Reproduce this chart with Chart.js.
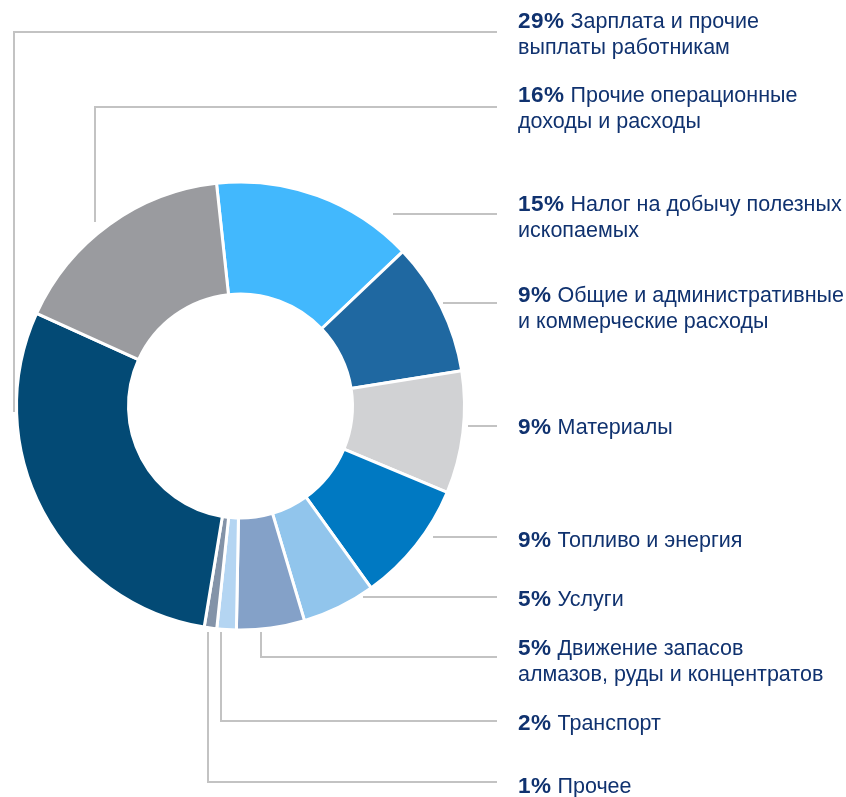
<!DOCTYPE html>
<html>
<head>
<meta charset="utf-8">
<script src="https://cdn.jsdelivr.net/npm/chart.js@4/dist/chart.umd.min.js"></script>
<style>
  html, body { margin: 0; padding: 0; background: #fff; }
  #wrap { width: 846px; height: 797px; position: relative; }
</style>
</head>
<body>
<div id="wrap"><canvas id="chart" width="846" height="797"></canvas></div>
<script>
'use strict';

// ---- Data (clockwise from the top) ----

const categories = [
  'Налог на добычу полезных ископаемых',
  'Общие и административные и коммерческие расходы',
  'Материалы',
  'Топливо и энергия',
  'Услуги',
  'Движение запасов алмазов, руды и концентратов',
  'Транспорт',
  'Прочее',
  'Зарплата и прочие выплаты работникам',
  'Прочие операционные доходы и расходы',
];
const shares = [14.6, 9.6, 8.8, 8.8, 5.3, 4.9, 1.4, 0.9, 29.2, 16.5];
const pctLabels = ['15%', '9%', '9%', '9%', '5%', '5%', '2%', '1%', '29%', '16%'];
const labelLines = [
  ['Налог на добычу полезных', 'ископаемых'],
  ['Общие и административные', 'и коммерческие расходы'],
  ['Материалы'],
  ['Топливо и энергия'],
  ['Услуги'],
  ['Движение запасов', 'алмазов, руды и концентратов'],
  ['Транспорт'],
  ['Прочее'],
  ['Зарплата и прочие', 'выплаты работникам'],
  ['Прочие операционные', 'доходы и расходы'],
];
const colors = [
  '#42b8fd', '#1f68a1', '#d1d2d4', '#0079c2', '#91c5ec',
  '#84a1c8', '#b4d5f2', '#8393a8', '#034a75', '#9a9b9f',
];

// ---- Label layout ----

const labelX = 518;
const labelBaseline = [211, 302, 434, 547, 606, 655, 730, 793, 28, 102];
const lineGap = 25.5;

// leader lines, one polyline per slice
const leaders = [
  [[393, 214], [497, 214]],
  [[443, 303], [497, 303]],
  [[468, 426], [497, 426]],
  [[433, 537], [497, 537]],
  [[363, 597], [497, 597]],
  [[261, 632], [261, 657], [497, 657]],
  [[221, 632], [221, 721], [497, 721]],
  [[208, 632], [208, 782], [497, 782]],
  [[14, 412], [14, 32], [497, 32]],
  [[95, 222], [95, 107], [497, 107]],
];

const labelPlugin = {
  id: 'sideLabels',
  afterDraw(chart) {
    const ctx = chart.ctx;
    ctx.save();
    ctx.strokeStyle = '#c3c3c3';
    ctx.lineWidth = 2;
    leaders.forEach(pts => {
      ctx.beginPath();
      pts.forEach(([x, y], i) => (i ? ctx.lineTo(x, y) : ctx.moveTo(x, y)));
      ctx.stroke();
    });

    ctx.fillStyle = '#10326f';
    ctx.textBaseline = 'alphabetic';
    labelLines.forEach((lines, i) => {
      const y0 = labelBaseline[i];
      ctx.font = 'bold 22.5px "Liberation Sans", Arial, sans-serif';
      ctx.letterSpacing = '0.5px';
      ctx.fillText(pctLabels[i], labelX, y0);
      const w = ctx.measureText(pctLabels[i]).width;
      ctx.letterSpacing = '0px';
      ctx.font = '21.5px "Liberation Sans", Arial, sans-serif';
      ctx.fillText(lines[0], labelX + w + 6, y0);
      for (let k = 1; k < lines.length; k++) {
        ctx.fillText(lines[k], labelX, y0 + k * lineGap);
      }
    });
    ctx.restore();
  },
};

// ---- Chart ----

new Chart(document.getElementById('chart'), {
  type: 'doughnut',
  data: {
    labels: categories,
    datasets: [{
      data: shares,
      backgroundColor: colors,
      borderColor: '#ffffff',
      borderWidth: 3,
      hoverOffset: 0,
    }],
  },
  options: {
    responsive: false,
    animation: false,
    rotation: -6.15,
    cutout: '50%',
    layout: { padding: { left: 15, right: 380, top: 180.5, bottom: 165.5 } },
    plugins: {
      legend: { display: false },
      tooltip: { enabled: false },
    },
  },
  plugins: [labelPlugin],
});
</script>
</body>
</html>
